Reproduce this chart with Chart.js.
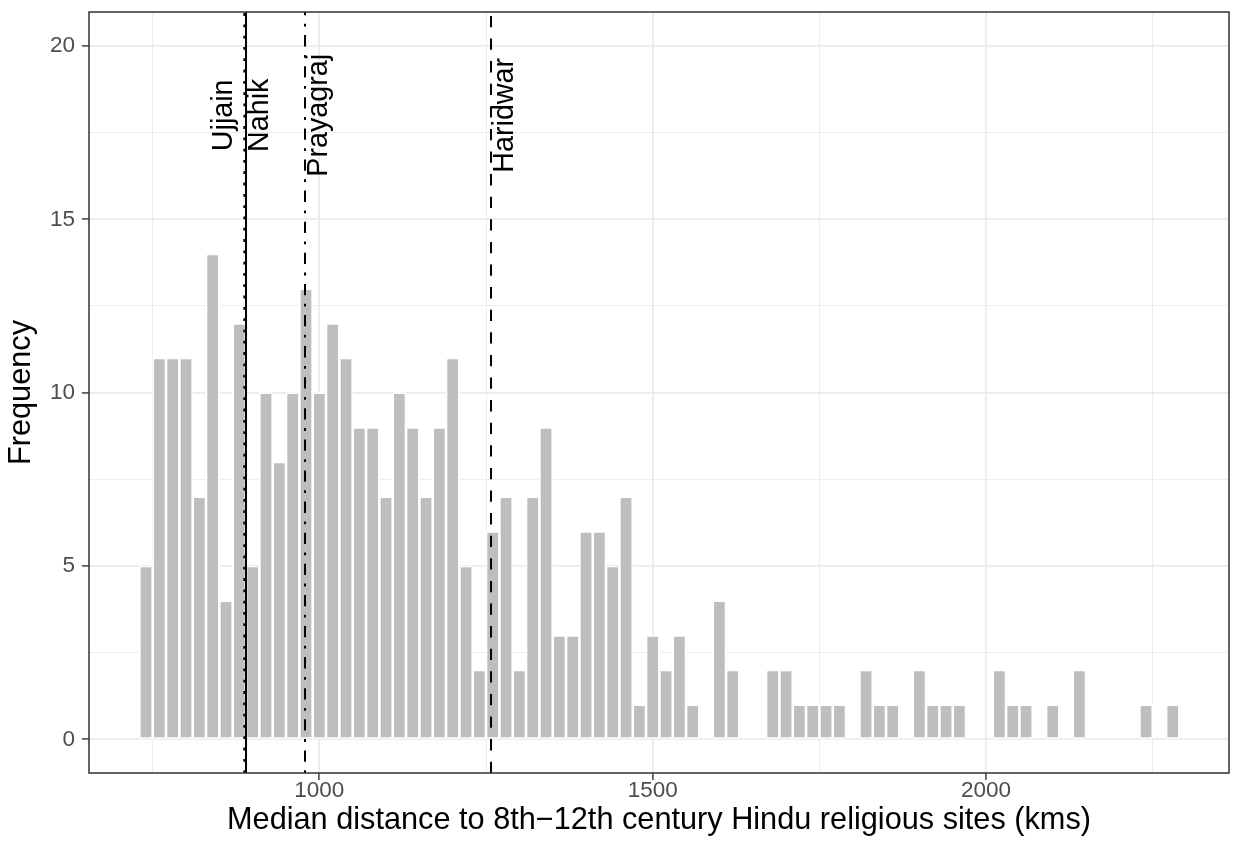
<!DOCTYPE html>
<html>
<head>
<meta charset="utf-8">
<title>Median distance histogram</title>
<script src="https://cdn.jsdelivr.net/npm/chart.js"></script>
<style>
  html, body { margin: 0; padding: 0; background: #ffffff; }
  #wrap { width: 1235px; height: 844px; }
</style>
</head>
<body>
<div id="wrap"><canvas id="histChart" width="1235" height="844"></canvas></div>
<script>
// bin centres (binwidth 20 kms) and counts
const binCenters = [
    740, 760, 780, 800, 820, 840, 860, 880, 900, 920,
    940, 960, 980, 1000, 1020, 1040, 1060, 1080, 1100, 1120,
    1140, 1160, 1180, 1200, 1220, 1240, 1260, 1280, 1300, 1320,
    1340, 1360, 1380, 1400, 1420, 1440, 1460, 1480, 1500, 1520,
    1540, 1560, 1580, 1600, 1620, 1640, 1660, 1680, 1700, 1720,
    1740, 1760, 1780, 1800, 1820, 1840, 1860, 1880, 1900, 1920,
    1940, 1960, 1980, 2000, 2020, 2040, 2060, 2080, 2100, 2120,
    2140, 2160, 2180, 2200, 2220, 2240, 2260, 2280
];
const counts = [
    5, 11, 11, 11, 7, 14, 4, 12, 5, 10,
    8, 10, 13, 10, 12, 11, 9, 9, 7, 10,
    9, 7, 9, 11, 5, 2, 6, 7, 2, 7,
    9, 3, 3, 6, 6, 5, 7, 1, 3, 2,
    3, 1, 0, 4, 2, 0, 0, 2, 2, 1,
    1, 1, 1, 0, 2, 1, 1, 0, 2, 1,
    1, 1, 0, 0, 2, 1, 1, 0, 1, 0,
    2, 0, 0, 0, 0, 1, 0, 1
];

const xTickLabels = [1000, 1500, 2000];
const xMinorTicks = [750, 1250, 1750, 2250];
const yTickLabels = [0, 5, 10, 15, 20];
const yMinorTicks = [2.5, 7.5, 12.5, 17.5];

// reference sites (vertical lines)
const siteNames = ['Ujjain', 'Nahik', 'Prayagraj', 'Haridwar'];
const siteDistances = [887.5, 890, 978.5, 1257.5];
const siteLabelHeight = 18;

const lineDash = {
    Ujjain: [2.8, 8.5],
    Nahik: [],
    Prayagraj: [2.8, 8.5, 11.3, 8.5],
    Haridwar: [11.3, 11.3]
};

const labelFont = '28.7px "Liberation Sans", Arial, sans-serif';

const siteLines = {
    id: 'siteLines',
    afterDatasetsDraw(chart) {
        const { ctx, chartArea: area, scales: { x, y } } = chart;
        ctx.save();
        ctx.beginPath();
        ctx.rect(area.left, area.top, area.right - area.left, area.bottom - area.top);
        ctx.clip();

        ctx.strokeStyle = '#000000';
        ctx.lineWidth = 2;
        ctx.lineCap = 'butt';
        siteNames.forEach((name, i) => {
            const px = x.getPixelForValue(siteDistances[i]);
            ctx.setLineDash(lineDash[name]);
            ctx.beginPath();
            ctx.moveTo(px, area.bottom);
            ctx.lineTo(px, area.top);
            ctx.stroke();
        });
        ctx.setLineDash([]);

        ctx.font = labelFont;
        ctx.fillStyle = '#000000';
        ctx.textAlign = 'center';
        ctx.textBaseline = 'alphabetic';
        const py = y.getPixelForValue(siteLabelHeight);
        siteNames.forEach((name, i) => {
            const px = x.getPixelForValue(siteDistances[i]);
            ctx.save();
            ctx.translate(px, py);
            ctx.rotate(-Math.PI / 2);
            // Ujjain sits left of its line, the others to the right
            ctx.fillText(name, 0, name === 'Ujjain' ? -12 : 21.5);
            ctx.restore();
        });
        ctx.restore();
    }
};

const panelBorder = {
    id: 'panelBorder',
    afterDraw(chart) {
        const { ctx, chartArea: area } = chart;
        ctx.save();
        ctx.strokeStyle = '#333333';
        ctx.lineWidth = 1.5;
        ctx.strokeRect(area.left, area.top, area.right - area.left, area.bottom - area.top);
        ctx.restore();
    }
};

function gridWidth(c, majors) {
    if (!c.tick) return 0;
    return majors.includes(c.tick.value) ? 1.8 : 0.9;
}

function tickColor(c, majors) {
    if (!c.tick) return 'rgba(0,0,0,0)';
    return majors.includes(c.tick.value) ? '#333333' : 'rgba(0,0,0,0)';
}

const tickFont = { family: '"Liberation Sans", Arial, sans-serif', size: 22.5 };
const titleFont = { family: '"Liberation Sans", Arial, sans-serif', size: 30.7 };

document.addEventListener('DOMContentLoaded', () => {
    const ctx = document.getElementById('histChart').getContext('2d');

    new Chart(ctx, {
        type: 'bar',
        data: {
            datasets: [{
                data: counts.map((c, i) => ({ x: binCenters[i], y: c })),
                backgroundColor: '#BEBEBE',
                borderColor: '#FFFFFF',
                borderWidth: 1.65,
                borderSkipped: false,
                barPercentage: 1,
                categoryPercentage: 1
            }]
        },
        options: {
            responsive: false,
            animation: false,
            devicePixelRatio: 1,
            layout: { padding: { top: 12, right: 6, bottom: 0, left: 0 } },
            plugins: {
                legend: { display: false },
                tooltip: { enabled: false }
            },
            scales: {
                x: {
                    type: 'linear',
                    min: 654.5,
                    max: 2364.4,
                    offset: false,
                    afterBuildTicks: (scale) => {
                        scale.ticks = [...xMinorTicks, ...xTickLabels]
                            .sort((a, b) => a - b)
                            .map(v => ({ value: v }));
                    },
                    afterFit: (scale) => {
                        scale.height = 71;
                        scale.paddingLeft = 0;
                        scale.paddingRight = 0;
                    },
                    grid: {
                        offset: false,
                        color: '#EBEBEB',
                        lineWidth: (c) => gridWidth(c, xTickLabels),
                        tickColor: (c) => tickColor(c, xTickLabels),
                        tickWidth: 1.4,
                        tickLength: 7
                    },
                    border: { display: false },
                    ticks: {
                        autoSkip: false,
                        maxRotation: 0,
                        padding: -3,
                        color: '#4D4D4D',
                        font: tickFont,
                        callback: (v) => xTickLabels.includes(v) ? String(v) : ''
                    },
                    title: {
                        display: true,
                        text: 'Median distance to 8th\u221212th century Hindu religious sites (kms)',
                        color: '#000000',
                        font: titleFont,
                        padding: { top: 0, bottom: 5 }
                    }
                },
                y: {
                    type: 'linear',
                    min: -0.97,
                    max: 20.98,
                    afterBuildTicks: (scale) => {
                        scale.ticks = [...yMinorTicks, ...yTickLabels]
                            .sort((a, b) => a - b)
                            .map(v => ({ value: v }));
                    },
                    afterFit: (scale) => {
                        scale.width = 89;
                        scale.paddingTop = 0;
                        scale.paddingBottom = 0;
                    },
                    grid: {
                        color: '#EBEBEB',
                        lineWidth: (c) => gridWidth(c, yTickLabels),
                        tickColor: (c) => tickColor(c, yTickLabels),
                        tickWidth: 1.4,
                        tickLength: 7
                    },
                    border: { display: false },
                    ticks: {
                        autoSkip: false,
                        padding: 7,
                        color: '#4D4D4D',
                        font: tickFont,
                        callback: (v) => yTickLabels.includes(v) ? String(v) : ''
                    },
                    title: {
                        display: true,
                        text: 'Frequency',
                        color: '#000000',
                        font: titleFont,
                        padding: { top: 3.5, bottom: 0 }
                    }
                }
            }
        },
        plugins: [siteLines, panelBorder]
    });
});
</script>
</body>
</html>
